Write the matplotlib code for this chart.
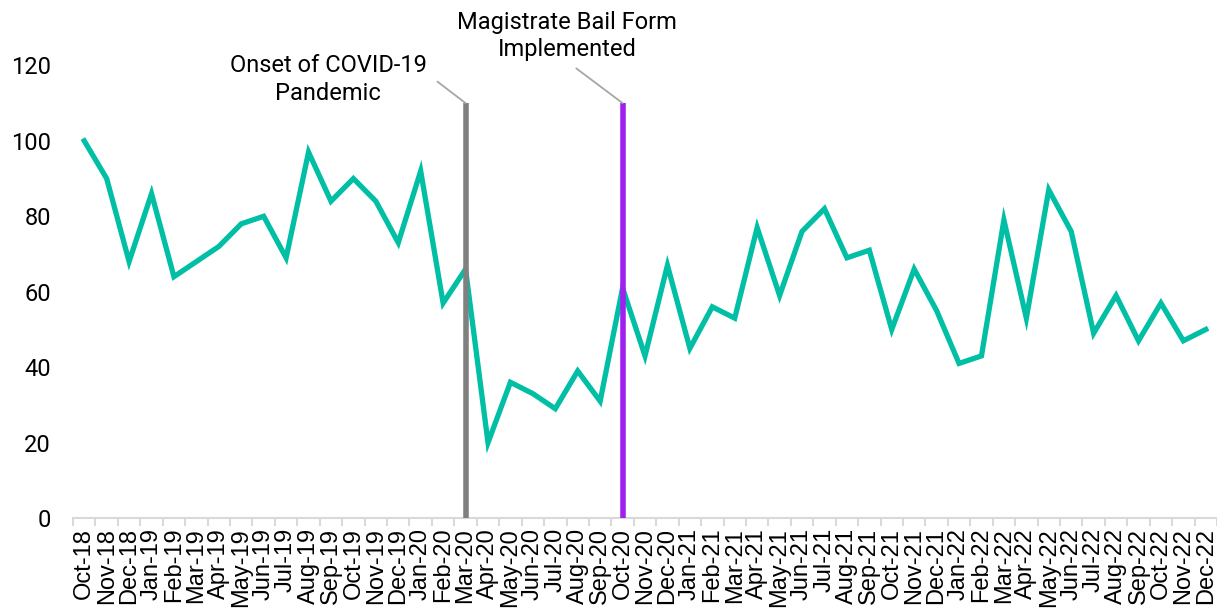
import matplotlib
matplotlib.use("Agg")
import matplotlib.pyplot as plt
import numpy as np

months = ["Oct-18", "Nov-18", "Dec-18",
          "Jan-19", "Feb-19", "Mar-19", "Apr-19", "May-19", "Jun-19",
          "Jul-19", "Aug-19", "Sep-19", "Oct-19", "Nov-19", "Dec-19",
          "Jan-20", "Feb-20", "Mar-20", "Apr-20", "May-20", "Jun-20",
          "Jul-20", "Aug-20", "Sep-20", "Oct-20", "Nov-20", "Dec-20",
          "Jan-21", "Feb-21", "Mar-21", "Apr-21", "May-21", "Jun-21",
          "Jul-21", "Aug-21", "Sep-21", "Oct-21", "Nov-21", "Dec-21",
          "Jan-22", "Feb-22", "Mar-22", "Apr-22", "May-22", "Jun-22",
          "Jul-22", "Aug-22", "Sep-22", "Oct-22", "Nov-22", "Dec-22"]
values = [100, 90, 68,
          86, 64, 68, 72, 78, 80,
          69, 97, 84, 90, 84, 73,
          92, 57, 66, 20, 36, 33,
          29, 39, 31, 61, 43, 67,
          45, 56, 53, 77, 59, 76,
          82, 69, 71, 50, 66, 55,
          41, 43, 79, 53, 87, 76,
          49, 59, 47, 57, 47, 50]

events = ["Mar-20", "Oct-20"]
event_labels = ["Onset of COVID-19\nPandemic", "Magistrate Bail Form\nImplemented"]
event_colors = ["#808080", "#A020F0"]
event_height = 110

x = np.arange(len(months))

fig = plt.figure(figsize=(12.17, 6.11), dpi=100)
ax = fig.add_axes([0.06, 0.152, 0.94, 0.741])

ax.plot(x, values, color="#00BFA5", lw=3.8, solid_joinstyle="miter", zorder=2)

for m, c in zip(events, event_colors):
    i = months.index(m)
    ax.vlines(i, 0, event_height, color=c, lw=4, zorder=3)

# annotations
i0 = months.index(events[0])
ax.annotate(event_labels[0], xy=(i0, event_height), xytext=(-28, 17),
            textcoords="offset points", ha="right", va="center",
            multialignment="center", linespacing=1.25,
            fontsize=17, family="Roboto", annotation_clip=False,
            arrowprops=dict(arrowstyle="-", color="#A6A6A6", lw=1.3,
                            shrinkA=6, shrinkB=0, relpos=(1, 0.5),
                            connectionstyle="arc,angleA=0,armA=8,angleB=0,armB=0,rad=0"))
i1 = months.index(events[1])
ax.annotate(event_labels[1], xy=(i1, event_height), xytext=(-40, 30),
            textcoords="offset points", ha="center", va="bottom",
            multialignment="center", linespacing=1.25,
            fontsize=17, family="Roboto", annotation_clip=False,
            arrowprops=dict(arrowstyle="-", color="#A6A6A6", lw=1.3,
                            shrinkA=5, shrinkB=0, relpos=(0.5, 0)))

ax.set_xlim(-0.5, len(months) - 0.5)
ax.set_ylim(0, 120)
ax.set_yticks(np.arange(0, 121, 20))
ax.set_xticks(x)
ax.set_xticklabels(months, rotation=90, fontsize=17, family="Liberation Sans")
ax.set_xticks(np.arange(-0.5, len(months), 1), minor=True)
ax.tick_params(axis="x", which="major", length=0, pad=7)
ax.tick_params(axis="x", which="minor", length=6, color="#D9D9D9", width=1.5)
ax.tick_params(axis="y", length=0, pad=16)
for lab in ax.get_yticklabels():
    lab.set_family("Roboto")
    lab.set_fontsize(17)

for s in ["top", "right", "left"]:
    ax.spines[s].set_visible(False)
ax.spines["bottom"].set_color("#D9D9D9")
ax.spines["bottom"].set_linewidth(1.5)

fig.savefig("out.png", dpi=100)
